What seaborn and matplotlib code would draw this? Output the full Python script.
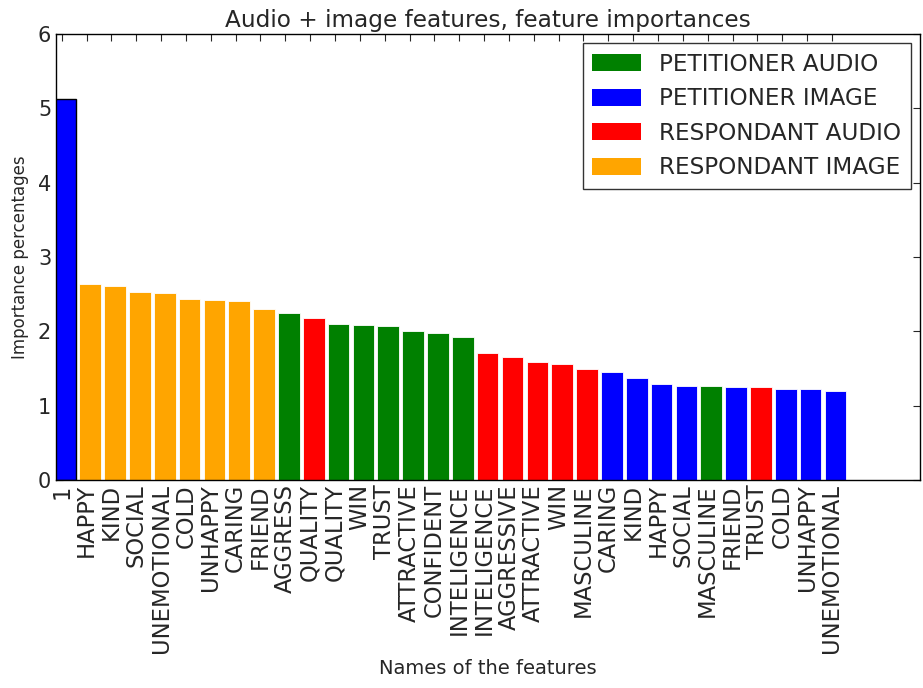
import numpy as np
import pandas as pd
import matplotlib
matplotlib.use("Agg")
import matplotlib.pyplot as plt
import seaborn as sns
from matplotlib.patches import Patch

features = ["1", "HAPPY", "KIND", "SOCIAL", "UNEMOTIONAL", "COLD", "UNHAPPY", "CARING",
            "FRIEND", "AGGRESS", "QUALITY", "QUALITY", "WIN", "TRUST", "ATTRACTIVE",
            "CONFIDENT", "INTELIGENCE", "INTELIGENCE", "AGGRESSIVE", "ATTRACTIVE", "WIN",
            "MASCULINE", "CARING", "KIND", "HAPPY", "SOCIAL", "MASCULINE", "FRIEND",
            "TRUST", "COLD", "UNHAPPY", "UNEMOTIONAL"]
importances = [5.13, 2.64, 2.61, 2.53, 2.51, 2.44, 2.42, 2.41, 2.30, 2.25, 2.18, 2.10,
               2.09, 2.07, 2.01, 1.98, 1.92, 1.71, 1.66, 1.59, 1.56, 1.49, 1.45, 1.37,
               1.29, 1.27, 1.26, 1.25, 1.25, 1.23, 1.23, 1.20]
groups = ["PETITIONER IMAGE"] + ["RESPONDANT IMAGE"] * 8 + ["PETITIONER AUDIO", "RESPONDANT AUDIO"] \
         + ["PETITIONER AUDIO"] * 6 + ["RESPONDANT AUDIO"] * 5 + ["PETITIONER IMAGE"] * 4 \
         + ["PETITIONER AUDIO", "PETITIONER IMAGE", "RESPONDANT AUDIO"] + ["PETITIONER IMAGE"] * 3
group_order = ["PETITIONER AUDIO", "PETITIONER IMAGE", "RESPONDANT AUDIO", "RESPONDANT IMAGE"]
group_colors = ["green", "blue", "red", "orange"]

df = pd.DataFrame({"idx": np.arange(len(features)), "feature": features,
                   "importance": importances, "group": groups})

sns.set_style("white")
plt.rcParams["font.family"] = ["DejaVu Sans"]

fig = plt.figure(figsize=(9.23, 6.88), dpi=100)
ax = fig.add_axes([56 / 923, 1 - 480 / 688, (920 - 56) / 923, (480 - 34) / 688])

sns.barplot(data=df, x="idx", y="importance", hue="group", hue_order=group_order,
            palette=dict(zip(group_order, group_colors)), dodge=False, width=0.87,
            edgecolor="white", linewidth=0.6, saturation=1, ax=ax, legend=False)

for p in ax.patches:
    if p.get_height() > 5:
        p.set_edgecolor("black")
        p.set_linewidth(1.0)

ax.set_xlim(-0.375, 34.4)
ax.set_ylim(0, 6)
ax.set_yticks(range(0, 7))
ax.set_xticks(np.arange(len(features)) - 0.145)
ax.set_xticklabels(features, rotation=90, fontsize=16.3)
ax.tick_params(axis="y", labelsize=15)
ax.tick_params(direction="in", top=True, right=True, length=5, width=0.8,
               bottom=True, left=True)
ax.tick_params(axis="x", pad=3)
for s in ax.spines.values():
    s.set_color("black")
    s.set_linewidth(1.0)

ax.set_title("Audio + image features, feature importances", fontsize=16.7, pad=5)
ax.set_xlabel("Names of the features", fontsize=14, labelpad=4)
ax.set_ylabel("Importance percentages", fontsize=12, labelpad=6)

handles = [Patch(facecolor=c, edgecolor="none", label=g) for g, c in zip(group_order, group_colors)]
leg = ax.legend(handles=handles, loc="upper right", fontsize=16.7, frameon=True,
                fancybox=False, borderaxespad=0.4, handlelength=2.1, handleheight=0.75,
                labelspacing=0.5, handletextpad=0.8, borderpad=0.4)
leg.get_frame().set_edgecolor("black")
leg.get_frame().set_linewidth(1.0)

fig.savefig("out.png", dpi=100)
